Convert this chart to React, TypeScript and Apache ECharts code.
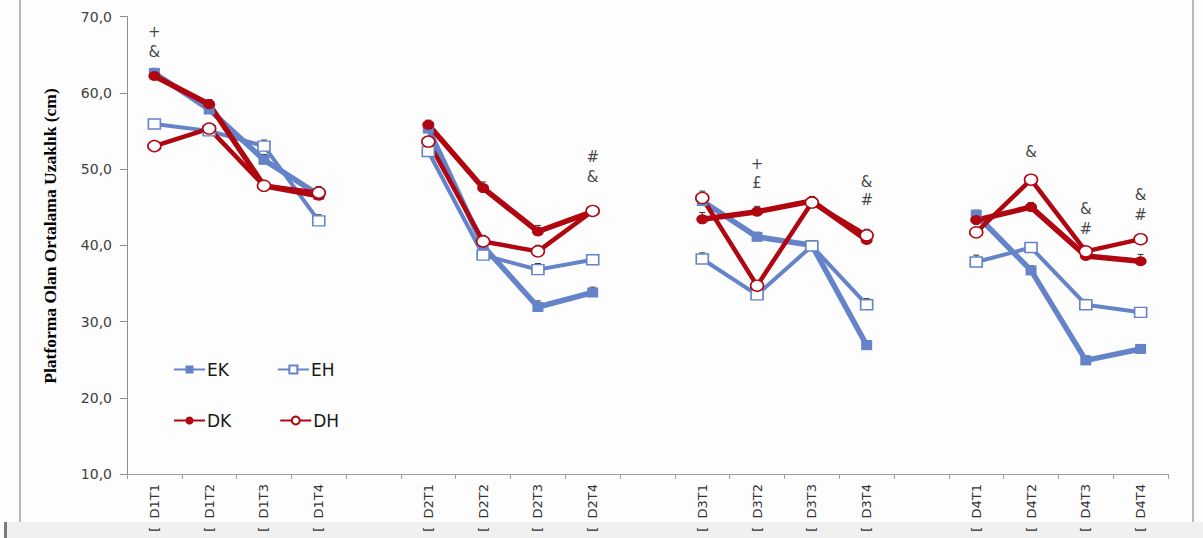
import React, { useEffect, useRef } from "react";
import * as echarts from "echarts";

// Session/trial categories; empty entries separate the four days.
const categories = [
  "D1T1", "D1T2", "D1T3", "D1T4", "",
  "D2T1", "D2T2", "D2T3", "D2T4", "",
  "D3T1", "D3T2", "D3T3", "D3T4", "",
  "D4T1", "D4T2", "D4T3", "D4T4",
];

const yTicks = [10, 20, 30, 40, 50, 60, 70];

// Mean distance to platform (cm) per group
const EK = [62.6, 57.8, 51.2, 46.6, null, 55.3, 39.9, 31.9, 33.8, null, 45.8, 41.1, 40.0, 26.9, null, 44.0, 36.7, 24.9, 26.4];
const EH = [55.9, 55.0, 53.0, 43.2, null, 52.3, 38.7, 36.8, 38.1, null, 38.2, 33.5, 39.9, 32.2, null, 37.8, 39.7, 32.2, 31.2];
const DK = [62.2, 58.5, 47.8, 46.5, null, 55.8, 47.5, 41.8, 44.4, null, 43.4, 44.4, 45.8, 40.7, null, 43.3, 45.0, 38.6, 37.9];
const DH = [53.0, 55.3, 47.8, 46.9, null, 53.6, 40.5, 39.2, 44.5, null, 46.2, 34.7, 45.6, 41.3, null, 41.7, 48.6, 39.2, 40.8];

// Standard errors (upper half of error bar)
const EK_SE = [0.6, 0.6, 0.7, 0.7, null, 0.6, 0.7, 0.8, 0.7, null, 0.8, 0.6, 0.6, 0.6, null, 0.6, 0.6, 0.6, 0.5];
const EH_SE = [0.6, 0.6, 0.8, 0.8, null, 0.6, 0.8, 0.8, 0.6, null, 0.8, 0.6, 0.6, 0.8, null, 0.9, 0.6, 0.7, 0.6];
const DK_SE = [0.6, 0.6, 0.7, 0.6, null, 0.6, 0.8, 0.8, 0.6, null, 0.9, 0.7, 0.6, 0.6, null, 0.6, 0.6, 0.6, 0.9];
const DH_SE = [0.6, 0.6, 0.6, 0.8, null, 0.6, 0.8, 0.8, 0.6, null, 0.9, 0.6, 0.6, 0.8, null, 0.6, 0.6, 0.6, 0.6];

// Significance marks: [category, height on value axis, symbol]
const marks: [string, number, string][] = [
  ["D1T1", 68.0, "+"], ["D1T1", 65.4, "&"],
  ["D2T4", 51.6, "#"], ["D2T4", 49.0, "&"],
  ["D3T2", 50.7, "+"], ["D3T2", 48.2, "£"],
  ["D3T4", 48.3, "&"], ["D3T4", 45.9, "#"],
  ["D4T2", 52.2, "&"],
  ["D4T3", 44.7, "&"], ["D4T3", 42.1, "#"],
  ["D4T4", 46.6, "&"], ["D4T4", 44.0, "#"],
];

const BLUE = "#6483c8";
const RED = "#b0060f";
const SANS = "DejaVu Sans";

function errorData(values: (number | null)[], se: (number | null)[]) {
  const out: [number, number, number][] = [];
  values.forEach((v, i) => {
    const e = se[i];
    if (v != null && e != null) out.push([i, v, e]);
  });
  return out;
}

function lineSeries(
  name: string,
  data: (number | null)[],
  color: string,
  width: number,
  symbol: string,
  size: number[],
  hollow: boolean
) {
  return {
    name,
    type: "line",
    data: data.map((v) => (v == null ? "-" : v)),
    connectNulls: false,
    symbol,
    symbolSize: size,
    showAllSymbol: true,
    z: 3,
    lineStyle: { color, width },
    itemStyle: {
      color: hollow ? "#ffffff" : color,
      borderColor: color,
      borderWidth: hollow ? 1.5 : 0,
      opacity: 1,
    },
    emphasis: { disabled: true },
  };
}

export default function App() {
  const ref = useRef<HTMLDivElement>(null);

  useEffect(() => {
    if (!ref.current) return;
    const chart = echarts.init(ref.current, null, { renderer: "svg" });

    const errSeries = [
      errorData(EK, EK_SE),
      errorData(EH, EH_SE),
      errorData(DK, DK_SE),
      errorData(DH, DH_SE),
    ].map((d) => ({
      type: "custom",
      z: 2,
      silent: true,
      data: d,
      renderItem: (_params: any, api: any) => {
        const idx = api.value(0);
        const v = api.value(1);
        const e = api.value(2);
        const p0 = api.coord([idx, v]);
        const p1 = api.coord([idx, v + e]);
        const style = { stroke: "#333333", lineWidth: 1 };
        return {
          type: "group",
          children: [
            { type: "line", shape: { x1: p0[0], y1: p0[1], x2: p1[0], y2: p1[1] }, style },
            { type: "line", shape: { x1: p1[0] - 3, y1: p1[1], x2: p1[0] + 3, y2: p1[1] }, style },
          ],
        };
      },
    }));

    const legendCommon = {
      itemWidth: 31,
      itemHeight: 10,
      itemGap: 48,
      padding: 0,
      selectedMode: false,
      textStyle: { fontFamily: SANS, fontSize: 17, color: "#1a1a1a", padding: [0, 0, 0, -3] },
    };

    chart.setOption({
      animation: false,
      backgroundColor: "#fdfdfd",
      grid: { left: 127, right: 35, top: 16.5, bottom: 64, containLabel: false },
      legend: [
        { ...legendCommon, data: ["EK", "EH"], left: 173, top: 361 },
        { ...legendCommon, data: ["DK", "DH"], left: 173, top: 412 },
      ],
      graphic: [
        { type: "line", z: -10, shape: { x1: 20, y1: 0, x2: 20, y2: 522 }, style: { stroke: "#b9b9b9", lineWidth: 2 } },
        { type: "line", z: -10, shape: { x1: 1193, y1: 0, x2: 1193, y2: 522 }, style: { stroke: "#b9b9b9", lineWidth: 2 } },
        { type: "rect", z: -10, shape: { x: 7, y: 522, width: 1196, height: 16 }, style: { fill: "#f0f0f0" } },
        { type: "rect", z: -10, shape: { x: 4, y: 522, width: 3, height: 16 }, style: { fill: "#7a7a7a" } },
        {
          type: "text",
          x: 50,
          y: 236,
          rotation: Math.PI / 2,
          style: {
            text: "Platforma Olan Ortalama Uzaklık (cm)",
            fontFamily: "Liberation Serif",
            fontWeight: "bold",
            fontSize: 17.5,
            fill: "#000000",
            textAlign: "center",
            textVerticalAlign: "middle",
          },
        },
      ],
      xAxis: {
        type: "category",
        data: categories,
        boundaryGap: true,
        axisLine: { lineStyle: { color: "#a0a0a0", width: 1 } },
        axisTick: { show: true, interval: 0, length: 5, lineStyle: { color: "#a0a0a0" } },
        axisLabel: {
          interval: 0,
          rotate: 90,
          margin: 10,
          fontFamily: SANS,
          fontSize: 13,
          color: "#333333",
          formatter: (v: string) => (v ? "[  " + v : ""),
        },
        splitLine: { show: false },
      },
      yAxis: {
        type: "value",
        min: yTicks[0],
        max: yTicks[yTicks.length - 1],
        interval: 10,
        axisLine: { show: true, lineStyle: { color: "#8c8c8c", width: 1 } },
        axisTick: { show: true, length: 7, lineStyle: { color: "#8c8c8c" } },
        axisLabel: {
          margin: 15,
          fontFamily: SANS,
          fontSize: 14,
          color: "#404040",
          formatter: (v: number) => v.toFixed(1).replace(".", ","),
        },
        splitLine: { show: false },
      },
      series: [
        ...errSeries,
        lineSeries("EK", EK, BLUE, 5.5, "rect", [11, 10], false),
        lineSeries("EH", EH, BLUE, 4, "rect", [12, 10], true),
        lineSeries("DK", DK, RED, 5.5, "circle", [12, 10], false),
        lineSeries("DH", DH, RED, 4.5, "circle", [13, 11], true),
        {
          type: "scatter",
          name: "marks",
          symbol: "circle",
          symbolSize: 1,
          silent: true,
          z: 4,
          itemStyle: { color: "rgba(0,0,0,0)" },
          data: marks.map(([c, y, t]) => ({ value: [c, y], label: { formatter: t } })),
          label: {
            show: true,
            position: "inside",
            fontFamily: SANS,
            fontSize: 15,
            color: "#111111",
          },
        },
      ],
    });

    return () => chart.dispose();
  }, []);

  return (
    <div
      ref={ref}
      style={{ position: "fixed", left: 0, top: 0, width: 1203, height: 538 }}
    />
  );
}
